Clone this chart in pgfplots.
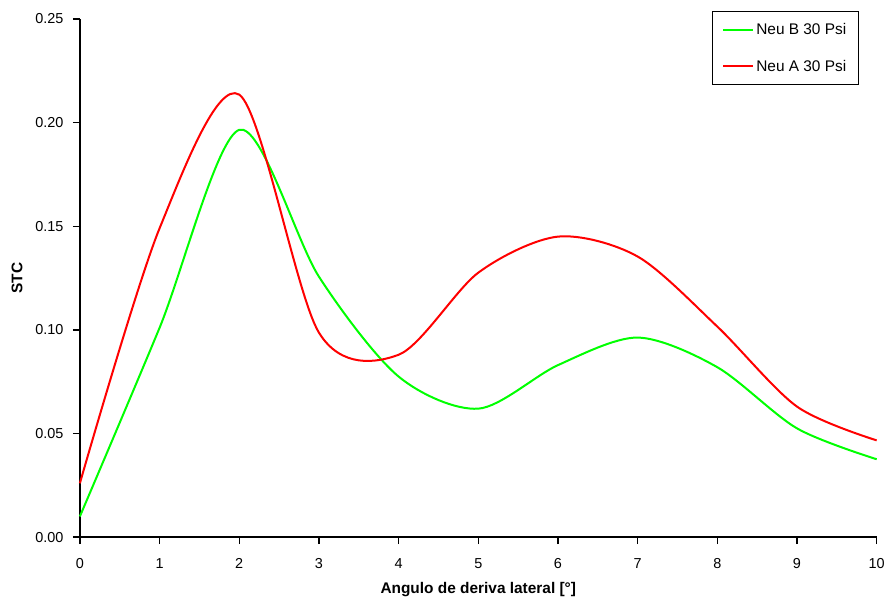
\documentclass[border=0pt]{standalone}
\usepackage{pgfplots}
\pgfplotsset{compat=1.18}
\usepackage{fontspec}
\setmainfont{Liberation Sans}
\usetikzlibrary{calc}
\definecolor{cgreen}{RGB}{0,255,0}
\definecolor{cred}{RGB}{255,0,0}
\begin{document}
\begin{tikzpicture}
\begin{axis}[
  scale only axis,
  width=798bp, height=519bp,
  xmin=0, xmax=10, ymin=0, ymax=0.25,
  axis x line*=bottom, axis y line*=left,
  axis line style={line width=1.6bp, -},
  xtick={0,1,...,10},
  ytick={0,0.05,0.10,0.15,0.20,0.25},
  yticklabel style={xshift=-6bp, /pgf/number format/.cd,fixed,fixed zerofill,precision=2},
  /pgf/number format/assume math mode=true,
  xtick style={draw=black, line width=1.4bp},
  ytick style={draw=black, line width=1.4bp},
  tickwidth=7bp,
  xtick align=outside, ytick align=outside,
  ticklabel style={font=\fontsize{14.5}{16}\selectfont},
  xticklabel style={yshift=-11bp},
  xlabel={\textbf{Angulo de deriva lateral [°]}},
  ylabel={\textbf{STC}},
  label style={font=\fontsize{15.5}{17}\selectfont},
  xlabel style={yshift=-7bp},
  ylabel style={yshift=6bp},
  legend style={at={(0.9774,1.0154)}, anchor=north east, draw=black, line width=0.8bp,
    font=\fontsize{15.5}{17}\selectfont, inner xsep=10bp, inner ysep=10bp, row sep=20bp,
    legend cell align=left},
  legend image code/.code={\draw[#1, line width=2bp] (0bp,0bp) -- (30bp,0bp);},
  clip=false,
]
\addplot[cgreen, line width=2bp, smooth, tension=0.5] coordinates {
 (0,0.010) (1,0.101) (2,0.1965) (3,0.1257) (4,0.0775) (5,0.0620) (6,0.0830) (7,0.0963) (8,0.0820) (9,0.0525) (10,0.0376)
};
\addlegendentry{Neu B 30 Psi}
\addplot[cred, line width=2bp, smooth, tension=0.5] coordinates {
 (0,0.026) (1,0.149) (2,0.2135) (3,0.0987) (4,0.088) (5,0.1276) (6,0.145) (7,0.1354) (8,0.1016) (9,0.0630) (10,0.0467)
};
\addlegendentry{Neu A 30 Psi}
\coordinate (ll) at (rel axis cs:0,0);
\coordinate (ur) at (rel axis cs:1,1);
\end{axis}
\useasboundingbox ($(ll)+(-80bp,-61bp)$) rectangle ($(ur)+(10bp,19bp)$);
\end{tikzpicture}
\end{document}
